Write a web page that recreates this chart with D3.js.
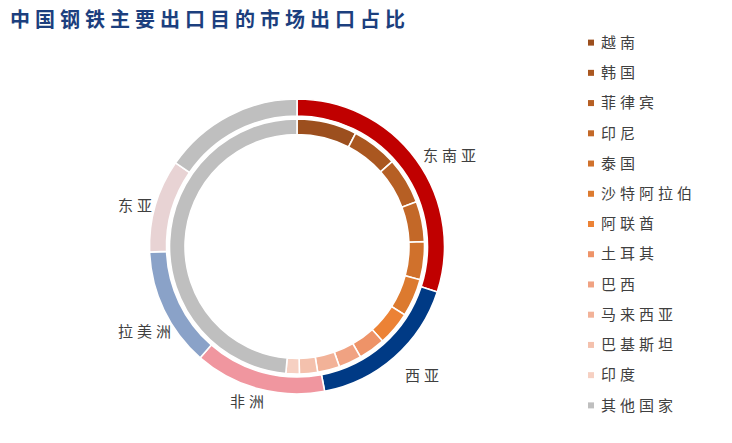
<!DOCTYPE html>
<html>
<head>
<meta charset="utf-8">
<script src="https://cdn.jsdelivr.net/npm/d3@7"></script>
<style>
  body { margin:0; background:#fff; }
  text { font-family:"Noto Sans CJK SC", sans-serif; }
</style>
</head>
<body>
<div id="chart"></div>
<script>
// outer ring: regions
var regions = ["东南亚", "西亚", "非洲", "拉美洲", "东亚", "其他"];
var regionShare = [30.0, 17.0, 14.4, 13.0, 10.2, 15.4];
var regionColors = ["#c00000", "#003a85", "#f0969f", "#8aa2c8", "#e8d3d4", "#bfbfbf"];
var regionLabels = ["东南亚", "西亚", "非洲", "拉美洲", "东亚", ""];

// inner ring: countries
var countries = ["越南", "韩国", "菲律宾", "印尼", "泰国", "沙特阿拉伯", "阿联酋", "土耳其", "巴西", "马来西亚", "巴基斯坦", "印度", "其他国家"];
var countryShare = [7.6, 5.8, 5.9, 5.1, 4.8, 4.8, 4.3, 3.4, 2.9, 2.8, 2.3, 1.7, 48.6];
var countryColors = ["#9c4f1e", "#aa5720", "#b65f24", "#c36828", "#d0712c", "#dc7a2f", "#ec8235",
                     "#ee9368", "#f0a282", "#f2b298", "#f4c1ad", "#f6d0c2", "#bfbfbf"];

(function(){
  var w = 732, h = 443;
  var cx = 297, cy = 246.5;

  var svg = d3.select("#chart").append("svg")
      .attr("width", w).attr("height", h);

  svg.append("text")
     .attr("x", 10).attr("y", 27)
     .attr("fill", "#1c3f7e")
     .style("font-size", "20px").style("font-weight", "bold")
     .style("letter-spacing", "5px")
     .text("中国钢铁主要出口目的市场出口占比");

  var g = svg.append("g").attr("transform", "translate(" + cx + "," + cy + ")");
  var pie = d3.pie().sort(null).value(function(d){ return d; });

  var innerArc = d3.arc().innerRadius(112).outerRadius(127.5);
  var outerArc = d3.arc().innerRadius(130.5).outerRadius(147.5);

  g.selectAll("path.country")
   .data(pie(countryShare))
   .enter().append("path")
     .attr("class", "country")
     .attr("d", innerArc)
     .attr("fill", function(d, i){ return countryColors[i]; })
     .attr("stroke", "#fff").attr("stroke-width", 1.6);

  var outerPie = pie(regionShare);
  g.selectAll("path.region")
   .data(outerPie)
   .enter().append("path")
     .attr("class", "region")
     .attr("d", outerArc)
     .attr("fill", function(d, i){ return regionColors[i]; })
     .attr("stroke", "#fff").attr("stroke-width", 1.6);

  // region labels just outside the ring (start of text, relative to centre)
  var labelOffsets = [[126, -91], [108, 129.5], [-67, 155], [-179, 85], [-179, -40.5]];
  g.selectAll("text.lbl")
   .data(outerPie.filter(function(d, i){ return regionLabels[i] !== ""; }))
   .enter().append("text")
     .attr("class", "lbl")
     .attr("x", function(d, i){ return labelOffsets[i][0]; })
     .attr("y", function(d, i){ return labelOffsets[i][1]; })
     .attr("dy", "0.35em")
     .attr("fill", "#404040")
     .style("font-size", "15px").style("letter-spacing", "4px")
     .text(function(d, i){ return regionLabels[i]; });

  // legend
  var y = d3.scaleBand().domain(countries).range([27.5, 420.5]);
  var leg = svg.selectAll("g.leg")
     .data(countries)
     .enter().append("g")
       .attr("class", "leg")
       .attr("transform", function(d){ return "translate(588," + (y(d) + y.bandwidth()/2) + ")"; });
  leg.append("rect")
     .attr("x", 0).attr("y", -3).attr("width", 6).attr("height", 6)
     .attr("fill", function(d, i){ return countryColors[i]; });
  leg.append("text")
     .attr("x", 13).attr("dy", "0.35em")
     .attr("fill", "#404040")
     .style("font-size", "15px").style("letter-spacing", "4px")
     .text(function(d){ return d; });
})();
</script>
</body>
</html>
